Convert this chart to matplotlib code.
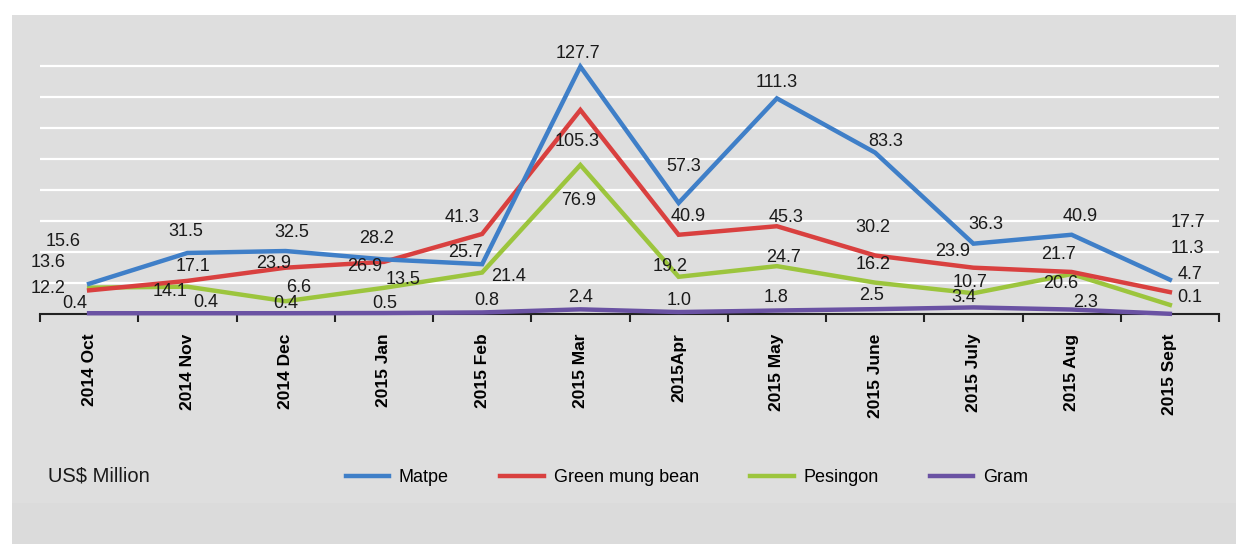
"""Monthly export values of pulses, Oct 2014 - Sept 2015."""

import matplotlib.pyplot as plt
from matplotlib.patches import Rectangle

OUT = "out.png"

months = ["2014 Oct", "2014 Nov", "2014 Dec", "2015 Jan", "2015 Feb", "2015 Mar",
          "2015Apr", "2015 May", "2015 June", "2015 July", "2015 Aug", "2015 Sept"]
matpe = [15.6, 31.5, 32.5, 28.2, 25.7, 127.7, 57.3, 111.3, 83.3, 36.3, 40.9, 17.7]
green_mung = [12.2, 17.1, 23.9, 26.9, 41.3, 105.3, 40.9, 45.3, 30.2, 23.9, 21.7, 11.3]
pesingon = [13.6, 14.1, 6.6, 13.5, 21.4, 76.9, 19.2, 24.7, 16.2, 10.7, 20.6, 4.7]
gram = [0.4, 0.4, 0.4, 0.5, 0.8, 2.4, 1.0, 1.8, 2.5, 3.4, 2.3, 0.1]

# label offsets in pixels (dx right, dy up), roughly where Excel put them
OFF_MATPE = [(-26, 42), (-2, 21), (6, 19), (-7, 21), (-17, 12), (-2, 13),
             (5, 36), (0, 16), (11, 11), (12, 19), (9, 18), (18, 57)]
OFF_GREEN = [(-41, 2), (6, 14), (-12, 4), (-19, -5), (-20, 16), (-3, -32),
             (10, 18), (9, 9), (-2, 28), (-21, 16), (-13, 17), (18, 44)]
OFF_PES = [(-41, 25), (-17, -5), (13, 14), (19, 8), (26, -4), (-2, -35),
           (-8, 10), (7, 9), (-2, 18), (-3, 11), (-11, -9), (20, 30)]
OFF_GRAM = [(-14, 10), (18, 11), (0, 10), (1, 10), (5, 12), (0, 12),
            (0, 12), (-1, 13), (-4, 14), (-10, 10), (14, 7), (20, 16)]

C_MATPE = "#3f7fc8"
C_GREEN = "#d9403f"
C_PES = "#9cc53d"
C_GRAM = "#6a52a3"

plt.rcParams["font.family"] = ["Liberation Sans", "DejaVu Sans"]


def main() -> None:
    fig = plt.figure(figsize=(12.36, 5.44), dpi=100, facecolor="white")
    # grey panel behind everything
    fig.patches.append(Rectangle((12 / 1236, 0), 1, 1 - 15 / 544, transform=fig.transFigure,
                                 facecolor="#dedede", edgecolor="none", zorder=-2))
    fig.patches.append(Rectangle((12 / 1236, 0), 1, 41 / 544, transform=fig.transFigure,
                                 facecolor="#dbdbdb", edgecolor="none", zorder=-1))

    ax = fig.add_axes([40 / 1236, 230 / 544, 1179 / 1236, 263.5 / 544])
    ax.set_facecolor("none")
    x = list(range(len(months)))
    ax.set_xlim(-0.5, len(months) - 0.5)
    ax.set_ylim(0, 136)

    for v in range(16, 129, 16):
        ax.axhline(v, color="white", lw=1.6, zorder=0)

    series = [
        ("Matpe", matpe, C_MATPE, OFF_MATPE),
        ("Green mung bean", green_mung, C_GREEN, OFF_GREEN),
        ("Pesingon", pesingon, C_PES, OFF_PES),
        ("Gram", gram, C_GRAM, OFF_GRAM),
    ]
    handles = []
    for i, (name, vals, col, offs) in enumerate(series):
        (h,) = ax.plot(x, vals, color=col, lw=3.2, label=name, zorder=5 - i,
                       clip_on=False, solid_joinstyle="miter")
        handles.append(h)
        for xi, v, (dx, dy) in zip(x, vals, offs):
            ax.annotate(f"{v:.1f}", (xi, v), xytext=(dx, dy), textcoords="offset pixels",
                        ha="center", va="center", fontsize=13, color="#1a1a1a", zorder=10)

    for side in ("top", "right", "left"):
        ax.spines[side].set_visible(False)
    ax.spines["bottom"].set_color("#222222")
    ax.spines["bottom"].set_linewidth(1.5)
    ax.spines["bottom"].set_zorder(1)
    ax.set_yticks([])
    ax.set_xticks(x, months, rotation=90, fontsize=12.5, fontweight="bold")
    ax.tick_params(axis="x", which="major", length=0, pad=14)
    ax.set_xticks([i - 0.5 for i in range(len(months) + 1)], minor=True)
    ax.tick_params(axis="x", which="minor", length=6, width=1.5, color="#222222")

    fig.text(48 / 1236, 1 - 476 / 544, "US$ Million", fontsize=14.5, va="center",
             ha="left", color="#1a1a1a")
    fig.legend(handles=handles, loc="center", bbox_to_anchor=(687 / 1236, 1 - 478 / 544),
               ncol=4, frameon=False, fontsize=13, handlelength=2.4, handletextpad=0.55,
               columnspacing=2.85)

    fig.savefig(OUT, dpi=100, facecolor=fig.get_facecolor())


if __name__ == "__main__":
    main()
